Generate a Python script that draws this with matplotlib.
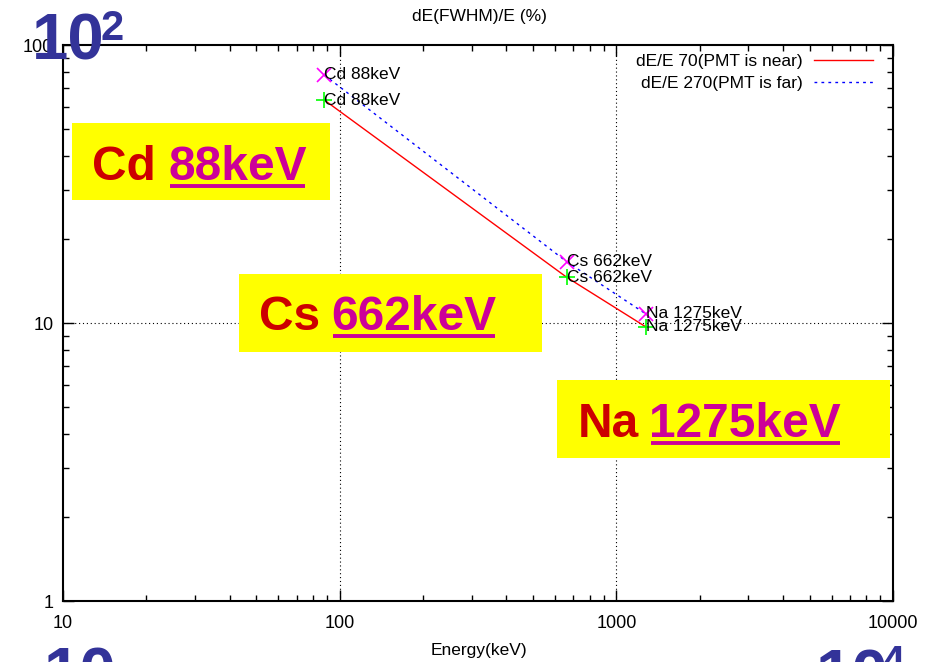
import matplotlib
matplotlib.use("Agg")
import matplotlib.pyplot as plt
from matplotlib.patches import Rectangle
from matplotlib.lines import Line2D
from matplotlib.ticker import FixedLocator, FixedFormatter, LogLocator, NullFormatter

plt.rcParams['font.family'] = ['Liberation Sans', 'DejaVu Sans']

# ---- data ----
energies = [88, 662, 1275]
labels_near = ["Cd 88keV", "Cs 662keV", "Na 1275keV"]
res_near = [63.4, 14.6, 9.7]      # dE/E 70 (PMT is near)
res_far = [78.0, 16.6, 10.8]      # dE/E 270 (PMT is far)
series_names = ["dE/E 70(PMT is near)", "dE/E 270(PMT is far)"]
xticks = [10, 100, 1000, 10000]
xticklabels = ["10", "100", "1000", "10000"]
yticks = [1, 10, 100]
yticklabels = ["1", "10", "100"]
box_elems = ["Cd ", "Cs ", "Na "]
box_energies = ["88keV", "662keV", "1275keV"]

W, H = 933, 662
fig = plt.figure(figsize=(W / 100, H / 100), dpi=100)

def fx(x):
    return x / W

def fy(y):
    return 1 - y / H

ax = fig.add_axes([fx(63), fy(601), (893 - 63) / W, (601 - 45) / H])
ax.set_xscale('log')
ax.set_yscale('log')
ax.set_xlim(10, 10000)
ax.set_ylim(1, 100)

# grid at majors only
for gx in [100, 1000]:
    ax.axvline(gx, color='black', lw=0.8, ls=(0, (1, 2.5)), zorder=1)
ax.axhline(10, color='black', lw=0.8, ls=(0, (1, 2.5)), zorder=1)

ax.plot(energies, res_near, color='#ff0000', lw=1.0, label=series_names[0], zorder=3)
ax.plot(energies, res_far, color='#0000ff', lw=1.0, ls=(0, (2, 3)), label=series_names[1], zorder=3)
ax.plot(energies, res_near, ls='none', marker='+', ms=12, mew=1.2, color='#00ff00', zorder=4)
ax.plot(energies, res_far, ls='none', marker='x', ms=10.5, mew=1.2, color='#ff00ff', zorder=4)

for e, v, t in zip(energies, res_near, labels_near):
    ax.text(e, v, t, ha='left', va='center', fontsize=12.5, zorder=5)
for e, v, t in zip(energies, res_far, labels_near):
    ax.text(e, v, t, ha='left', va='center', fontsize=12.5, zorder=5)

ax.xaxis.set_major_locator(FixedLocator(xticks))
ax.xaxis.set_major_formatter(FixedFormatter(xticklabels))
ax.yaxis.set_major_locator(FixedLocator(yticks))
ax.yaxis.set_major_formatter(FixedFormatter(yticklabels))
ax.xaxis.set_minor_locator(LogLocator(base=10, subs=range(2, 10)))
ax.yaxis.set_minor_locator(LogLocator(base=10, subs=range(2, 10)))
ax.xaxis.set_minor_formatter(NullFormatter())
ax.yaxis.set_minor_formatter(NullFormatter())
ax.tick_params(which='both', direction='in', top=True, right=True, labelsize=13, width=1.0)
ax.tick_params(which='major', length=8, pad=7)
ax.tick_params(axis='x', which='major', pad=10)
ax.tick_params(which='minor', length=4)
for s in ax.spines.values():
    s.set_linewidth(1.5)

leg = ax.legend(loc='upper right', bbox_to_anchor=(fx(873), fy(54)), bbox_transform=fig.transFigure,
                frameon=False, markerfirst=False, fontsize=12.5, handlelength=3.4,
                handletextpad=0.65, labelspacing=0.37, borderpad=0, borderaxespad=0)

fig.text(fx(479), fy(17), "dE(FWHM)/E (%)", ha='center', va='center', fontsize=12.5)
fig.text(fx(479), fy(650), "Energy(keV)", ha='center', va='center', fontsize=12.5)

# yellow annotation boxes
boxes = [(72, 123, 330, 200), (239, 274, 542, 352), (557, 380, 890, 458)]
red_x = [92, 259, 578]
mag_x = [168, 331, 649]
baselines = [180, 330, 437]
mag_texts = []
for (x0, y0, x1, y1), el, en, rx, mx, bl in zip(boxes, box_elems, box_energies, red_x, mag_x, baselines):
    fig.add_artist(Rectangle((fx(x0), fy(y1)), fx(x1) - fx(x0), fy(y0) - fy(y1),
                             transform=fig.transFigure, facecolor='#ffff00', edgecolor='none', zorder=10))
    fig.text(fx(rx), fy(bl), el.strip(), ha='left', va='baseline', fontsize=34.5,
             fontweight='bold', color='#cc0000', zorder=11)
    t = fig.text(fx(mx), fy(bl), en, ha='left', va='baseline', fontsize=34.5,
                 fontweight='bold', color='#cc0099', zorder=11)
    mag_texts.append((t, bl))

# big blue exponent labels
big_kw = dict(fontweight='bold', color='#333399', zorder=12, va='baseline', ha='left')
fig.text(fx(32), fy(60), "10", fontsize=47, **big_kw)
fig.text(fx(101), fy(40), "2", fontsize=30, **big_kw)
fig.text(fx(44), fy(694), "10", fontsize=47, **big_kw)
fig.text(fx(816), fy(695), "10", fontsize=47, **big_kw)
fig.text(fx(881), fy(675), "4", fontsize=30, **big_kw)

# underline the energies
fig.canvas.draw()
r = fig.canvas.get_renderer()
for t, bl in mag_texts:
    bb = t.get_window_extent(r)
    yy = fy(bl + 6)
    fig.add_artist(Line2D([bb.x0 / W + 2 / W, bb.x1 / W - 1 / W], [yy, yy], transform=fig.transFigure,
                          color='#cc0099', lw=2.8, zorder=11, solid_capstyle='butt'))

fig.savefig("out.png", dpi=100)
